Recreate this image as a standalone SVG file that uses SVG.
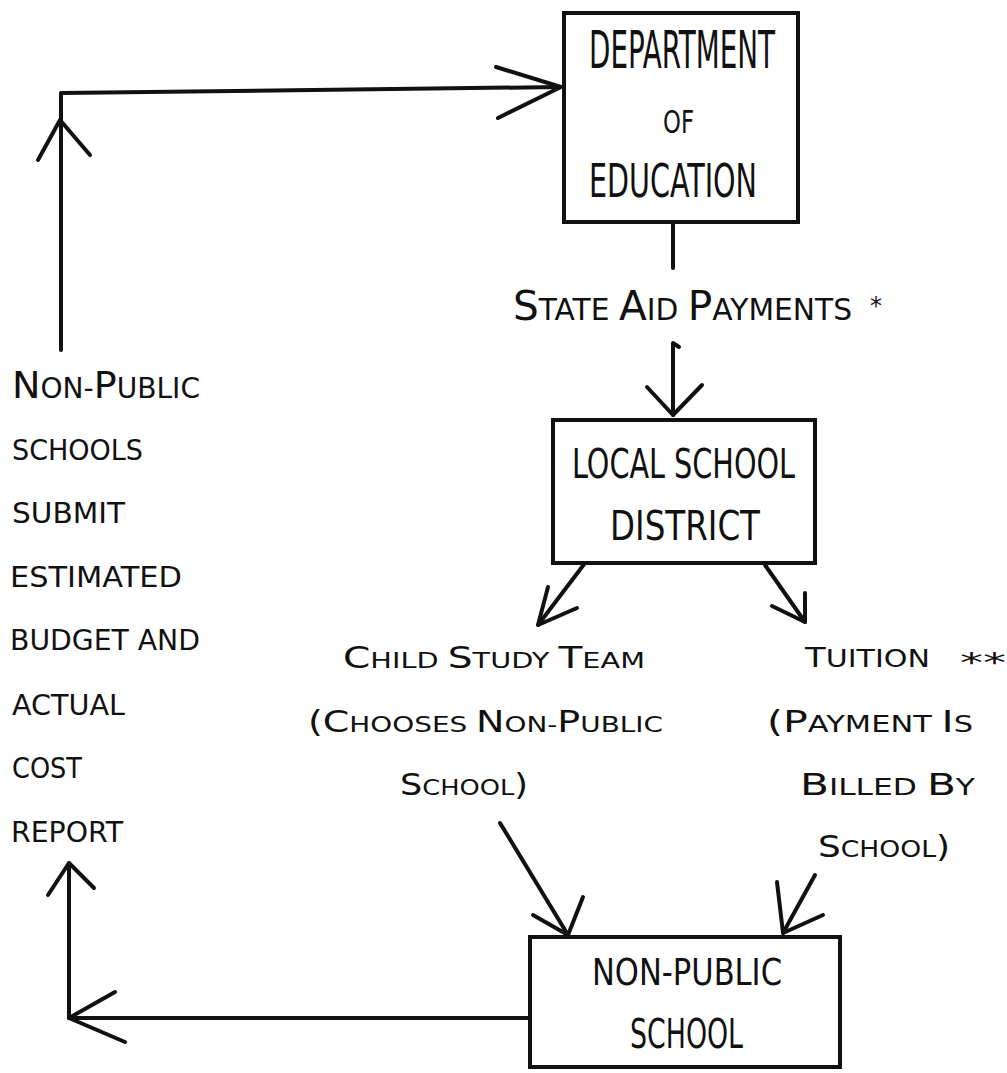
<svg xmlns="http://www.w3.org/2000/svg" width="1007" height="1073" viewBox="0 0 1007 1073">
  <style>
    .box { fill: none; stroke: #111; stroke-width: 4; }
    .ln { fill: none; stroke: #111; stroke-width: 4; stroke-linecap: round; stroke-linejoin: round; }
    .bt { font-family: "DejaVu Sans Condensed", "DejaVu Sans", sans-serif; fill: #111; }
    .lt { font-family: "DejaVu Sans", "Liberation Sans", sans-serif; fill: #111; }
  </style>
  <rect width="1007" height="1073" fill="#ffffff"/>

  <g id="connectors">
    <!-- cost report to Department of Education -->
    <polyline class="ln" points="61,350 61,93 561,87"/>
    <polyline class="ln" points="38,160 60,120 90,155"/>
    <polyline class="ln" points="496,67 561,87 498,118"/>
    <!-- Department to state aid label -->
    <line class="ln" x1="673" y1="222" x2="673" y2="268"/>
    <!-- state aid to local district -->
    <polyline class="ln" points="679,347 673,343 673,415"/>
    <polyline class="ln" points="647,387 673,415 702,385"/>
    <!-- local district to child study team -->
    <line class="ln" x1="585" y1="563" x2="538" y2="625"/>
    <polyline class="ln" points="548,587 538,625 577,608"/>
    <!-- local district to tuition -->
    <line class="ln" x1="765" y1="565" x2="805" y2="622"/>
    <polyline class="ln" points="805,593 805,622 772,606"/>
    <!-- child study team to non-public school -->
    <line class="ln" x1="500" y1="823" x2="568" y2="935"/>
    <polyline class="ln" points="533,915 568,935 583,897"/>
    <!-- tuition to non-public school -->
    <line class="ln" x1="815" y1="875" x2="783" y2="933"/>
    <polyline class="ln" points="777,882 783,933 823,915"/>
    <!-- non-public school to report -->
    <polyline class="ln" points="530,1018 69,1018 69,863"/>
    <polyline class="ln" points="115,992 69,1018 125,1042"/>
    <polyline class="ln" points="48,895 69,863 94,888"/>
  </g>

  <g id="node-department">
    <rect class="box" x="564" y="13" width="234" height="209"/>
    <text class="bt" x="589" y="68" font-size="52" textLength="186" lengthAdjust="spacingAndGlyphs">DEPARTMENT</text>
    <text class="bt" x="663" y="133" font-size="32" textLength="31" lengthAdjust="spacingAndGlyphs">OF</text>
    <text class="bt" x="589" y="197" font-size="47" textLength="168" lengthAdjust="spacingAndGlyphs">EDUCATION</text>
  </g>

  <g id="label-state-aid">
    <text class="lt" x="513" y="320" font-size="30" textLength="339" lengthAdjust="spacingAndGlyphs"><tspan font-size="41">S</tspan>TATE <tspan font-size="41">A</tspan>ID <tspan font-size="41">P</tspan>AYMENTS</text>
    <text class="lt" x="870" y="314" font-size="24">*</text>
  </g>

  <g id="node-local-district">
    <rect class="box" x="553" y="420" width="262" height="143"/>
    <text class="bt" x="572" y="478" font-size="41" textLength="223" lengthAdjust="spacingAndGlyphs">LOCAL SCHOOL</text>
    <text class="bt" x="610" y="540" font-size="41" textLength="150" lengthAdjust="spacingAndGlyphs">DISTRICT</text>
  </g>

  <g id="label-child-study">
    <text class="lt" x="343" y="668" font-size="22" textLength="302" lengthAdjust="spacingAndGlyphs"><tspan font-size="30">C</tspan>HILD <tspan font-size="30">S</tspan>TUDY <tspan font-size="30">T</tspan>EAM</text>
    <text class="lt" x="308" y="732" font-size="22" textLength="355" lengthAdjust="spacingAndGlyphs"><tspan font-size="30">(C</tspan>HOOSES <tspan font-size="30">N</tspan>ON-<tspan font-size="30">P</tspan>UBLIC</text>
    <text class="lt" x="400" y="795" font-size="22" textLength="128" lengthAdjust="spacingAndGlyphs"><tspan font-size="30">S</tspan>CHOOL<tspan font-size="30">)</tspan></text>
  </g>

  <g id="label-tuition">
    <text class="lt" x="805" y="667" font-size="24" textLength="125" lengthAdjust="spacingAndGlyphs"><tspan font-size="27">T</tspan>UITION</text>
    <text class="lt" x="960" y="672" font-size="26" textLength="46" lengthAdjust="spacingAndGlyphs">**</text>
    <text class="lt" x="767" y="732" font-size="23" textLength="206" lengthAdjust="spacingAndGlyphs"><tspan font-size="31">(P</tspan>AYMENT <tspan font-size="31">I</tspan>S</text>
    <text class="lt" x="800" y="795" font-size="23" textLength="175" lengthAdjust="spacingAndGlyphs"><tspan font-size="31">B</tspan>ILLED <tspan font-size="31">B</tspan>Y</text>
    <text class="lt" x="818" y="857" font-size="23" textLength="132" lengthAdjust="spacingAndGlyphs"><tspan font-size="31">S</tspan>CHOOL<tspan font-size="31">)</tspan></text>
  </g>

  <g id="node-non-public-school">
    <rect class="box" x="530" y="937" width="310" height="130"/>
    <text class="bt" x="592" y="985" font-size="38" textLength="190" lengthAdjust="spacingAndGlyphs">NON-PUBLIC</text>
    <text class="bt" x="630" y="1048" font-size="41" textLength="113" lengthAdjust="spacingAndGlyphs">SCHOOL</text>
  </g>

  <g id="label-report">
    <text class="lt" x="12" y="398" font-size="28" textLength="188" lengthAdjust="spacingAndGlyphs"><tspan font-size="38">N</tspan>ON-<tspan font-size="38">P</tspan>UBLIC</text>
    <text class="lt" x="12" y="460" font-size="27.5" textLength="131" lengthAdjust="spacingAndGlyphs">SCHOOLS</text>
    <text class="lt" x="12" y="523" font-size="27.5" textLength="113" lengthAdjust="spacingAndGlyphs">SUBMIT</text>
    <text class="lt" x="10" y="587" font-size="27.5" textLength="172" lengthAdjust="spacingAndGlyphs">ESTIMATED</text>
    <text class="lt" x="10" y="650" font-size="27.5" textLength="190" lengthAdjust="spacingAndGlyphs">BUDGET AND</text>
    <text class="lt" x="12" y="715" font-size="27.5" textLength="113" lengthAdjust="spacingAndGlyphs">ACTUAL</text>
    <text class="lt" x="12" y="778" font-size="27.5" textLength="70" lengthAdjust="spacingAndGlyphs">COST</text>
    <text class="lt" x="11" y="842" font-size="27.5" textLength="112" lengthAdjust="spacingAndGlyphs">REPORT</text>
  </g>
</svg>
